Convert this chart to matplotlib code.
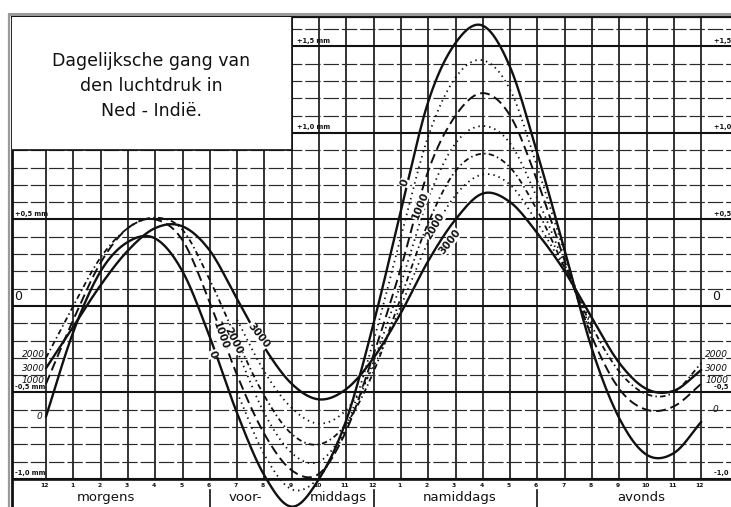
import numpy as np
import matplotlib
matplotlib.use("Agg")
import matplotlib.pyplot as plt
from matplotlib.patches import Rectangle
from matplotlib.lines import Line2D

# Hours of the day (midnight to midnight) and their printed labels
hours = np.arange(0, 25)
hour_labels = ["12", "1", "2", "3", "4", "5", "6", "7", "8", "9", "10", "11",
               "12", "1", "2", "3", "4", "5", "6", "7", "8", "9", "10", "11", "12"]

# Pressure deviation from the daily mean (mm Hg) by station height (m)
nan = np.nan
p_0 = [-0.64, -0.15, 0.20, 0.37, 0.39, 0.20, -0.18, -0.62, -0.98, -1.16, -1.00, -0.66,
       -0.10, 0.55, 1.18, 1.52, 1.62, 1.38, 0.88, 0.32, -0.25, -0.65, -0.86, -0.85, -0.67]
p_500 = [nan, nan, nan, nan, nan, nan, nan, -0.50, -0.86, -1.06, -0.99, -0.70,
         -0.20, 0.40, 0.98, 1.32, 1.42, 1.25, 0.80, 0.30, -0.20, nan, nan, nan, nan]
p_1000 = [-0.45, -0.08, 0.25, 0.45, 0.50, 0.38, 0.02, -0.40, -0.74, -0.95, -0.97, -0.72,
          -0.28, 0.22, 0.78, 1.10, 1.23, 1.10, 0.72, 0.26, -0.18, -0.48, -0.60, -0.58, -0.45]
p_1500 = [nan, nan, nan, nan, nan, nan, nan, -0.26, -0.62, -0.85, -0.90, -0.70,
          -0.32, 0.13, 0.62, 0.94, 1.04, 0.94, 0.62, 0.24, -0.15, nan, nan, nan, nan]
p_2000 = [-0.30, 0.00, 0.28, 0.45, 0.51, 0.44, 0.15, -0.20, -0.52, -0.74, -0.80, -0.68,
          -0.38, 0.05, 0.48, 0.78, 0.88, 0.80, 0.55, 0.22, -0.12, -0.38, -0.51, -0.50, -0.33]
p_2500 = [nan, nan, nan, nan, nan, nan, nan, -0.08, -0.38, -0.59, -0.68, -0.60,
          -0.35, 0.00, 0.37, 0.64, 0.76, 0.70, 0.48, 0.21, -0.10, nan, nan, nan, nan]
p_3000 = [-0.36, -0.12, 0.12, 0.32, 0.45, 0.46, 0.32, 0.04, -0.24, -0.45, -0.54, -0.48,
          -0.30, -0.04, 0.26, 0.50, 0.65, 0.60, 0.42, 0.20, -0.07, -0.33, -0.48, -0.49, -0.37]

mm_major = [-1.0, -0.5, 0.0, 0.5, 1.0, 1.5]
mm_major_labels = ["-1,0 mm", "-0,5 mm", "0", "+0,5 mm", "+1,0 mm", "+1,5 mm"]
periods = ["morgens", "voor-", "middags", "namiddags", "avonds"]

INK = "#111111"


def smooth(x, y, n=12):
    """Catmull-Rom curve through the finite points, for a hand-drawn look."""
    x = np.asarray(x, float)
    y = np.asarray(y, float)
    m = np.isfinite(y)
    x, y = x[m], y[m]
    xs, ys = [], []
    for i in range(len(x) - 1):
        y0 = y[i - 1] if i > 0 else 2 * y[i] - y[i + 1]
        y3 = y[i + 2] if i + 2 < len(y) else 2 * y[i + 1] - y[i]
        y1, y2 = y[i], y[i + 1]
        t = np.linspace(0, 1, n, endpoint=False)
        yy = 0.5 * ((2 * y1) + (-y0 + y2) * t + (2 * y0 - 5 * y1 + 4 * y2 - y3) * t ** 2
                    + (-y0 + 3 * y1 - 3 * y2 + y3) * t ** 3)
        xs.append(x[i] + (x[i + 1] - x[i]) * t)
        ys.append(yy)
    xs.append([x[-1]])
    ys.append([y[-1]])
    return np.concatenate(xs), np.concatenate(ys)


fig = plt.figure(figsize=(7.31, 5.07), dpi=100)
fig.patch.set_facecolor("white")
ax = fig.add_axes([12 / 731, 0.0, 1 - 12 / 731, 490 / 507])
ax.set_xlim(-1.245, 25.09)
ax.set_ylim(-1.162, 1.67)
ax.set_xticks([])
ax.set_yticks([])
for s in ("right", "bottom"):
    ax.spines[s].set_visible(False)
ax.spines["left"].set_linewidth(2.0)
ax.spines["top"].set_linewidth(1.6)
ax.spines["left"].set_color(INK)
ax.spines["top"].set_color(INK)

# faint double rule of the printed frame
fig.add_artist(Line2D([9 / 731, 9 / 731], [0, 1 - 15 / 507], color="#9a9a9a", lw=1.6))
fig.add_artist(Line2D([9 / 731, 1], [1 - 14 / 507, 1 - 14 / 507], color="#9a9a9a", lw=2.2))

# grid: hourly verticals, 0.1 mm broken rules, 0.5 mm heavy rules
for h in hours:
    ax.plot([h, h], [-1.0, 1.67], color=INK, lw=1.2, zorder=1)
for k in range(-10, 17):
    v = k / 10
    if k % 5 == 0:
        ax.axhline(v, color=INK, lw=1.5, zorder=1)
    else:
        ax.axhline(v, color="#2a2a2a", lw=0.85, dashes=(13, 2.5), zorder=1)
ax.plot([-1.245, 25.09], [-1.0, -1.0], color=INK, lw=1.9, zorder=2)

# title box
ax.add_patch(Rectangle((-1.3, 0.9), 9.0 + 1.3, 0.9, facecolor="white",
                       edgecolor=INK, lw=1.2, zorder=3))
ax.text(3.85, 1.27, "Dagelijksche gang van\nden luchtdruk in\nNed - Indië.",
        ha="center", va="center", fontsize=12.5, linespacing=1.5,
        color=INK, zorder=4, family="DejaVu Sans")

# curves
styles = [
    (p_0, dict(lw=1.7, ls="-")),
    (p_500, dict(lw=1.3, dashes=(0.8, 2.2))),
    (p_1000, dict(lw=1.4, dashes=(5, 2.5))),
    (p_1500, dict(lw=1.3, dashes=(0.8, 2.2))),
    (p_2000, dict(lw=1.3, dashes=(3, 1.8, 0.8, 1.8))),
    (p_2500, dict(lw=1.3, dashes=(0.8, 2.2))),
    (p_3000, dict(lw=1.7, ls="-")),
]
for vals, st in styles:
    xs, ys = smooth(hours, vals)
    ax.plot(xs, ys, color=INK, zorder=5, solid_capstyle="round", **st)

# labels on the curves
lab = dict(color=INK, fontsize=7.5, fontweight="bold", ha="center", va="center",
           zorder=6, bbox=dict(facecolor="white", edgecolor="none", pad=0.3))
ax.text(13.15, 0.71, "0", rotation=72, **lab)
ax.text(13.70, 0.58, "1000", rotation=68, **lab)
ax.text(14.25, 0.46, "2000", rotation=60, **lab)
ax.text(14.78, 0.37, "3000", rotation=52, **lab)
ax.text(7.78, -0.17, "3000", rotation=-52, **lab)
ax.text(6.85, -0.20, "2000", rotation=-64, **lab)
ax.text(6.38, -0.17, "1000", rotation=-70, **lab)
ax.text(6.10, -0.28, "0", rotation=-70, **lab)

end = dict(color=INK, fontsize=6.5, style="italic", va="center", zorder=6)
for y, t in [(-0.28, "2000"), (-0.36, "3000"), (-0.43, "1000")]:
    ax.text(-0.05, y, t, ha="right", **end)
    ax.text(24.15, y, t, ha="left", **end)
ax.text(-0.12, -0.64, "0", ha="right", **end)
ax.text(24.4, -0.60, "0", ha="left", **end)

# mm scale labels (left, top centre, right edge)
sm = dict(color=INK, fontsize=4.8, fontweight="bold", va="bottom", zorder=6)
for v, t in zip(mm_major, mm_major_labels):
    if t == "0":
        ax.text(-1.15, v + 0.015, t, fontsize=9, color=INK, va="bottom", zorder=6)
        ax.text(24.4, v + 0.015, t, fontsize=9, color=INK, va="bottom", zorder=6)
        continue
    if v > 0.9:
        ax.text(9.2, v + 0.015, t, **sm)
    else:
        ax.text(-1.15, v + 0.015, t, **sm)
    ax.text(24.45, v + 0.015, t, **sm)

# hour numbers and day periods below the chart
for h, t in zip(hours, hour_labels):
    ax.text(h - 0.05, -1.04, t, ha="center", va="center", fontsize=4.3,
            fontweight="bold", color=INK)
for h in (6, 12, 18):
    ax.plot([h, h], [-1.062, -1.17], color=INK, lw=1.2, clip_on=False)
period_x = [2.2, 7.3, 10.7, 15.15, 21.8]
for x, t in zip(period_x, periods):
    ax.text(x, -1.105, t, ha="center", va="center", fontsize=9.5, color=INK)

fig.savefig("out.png", dpi=100, facecolor="white")
